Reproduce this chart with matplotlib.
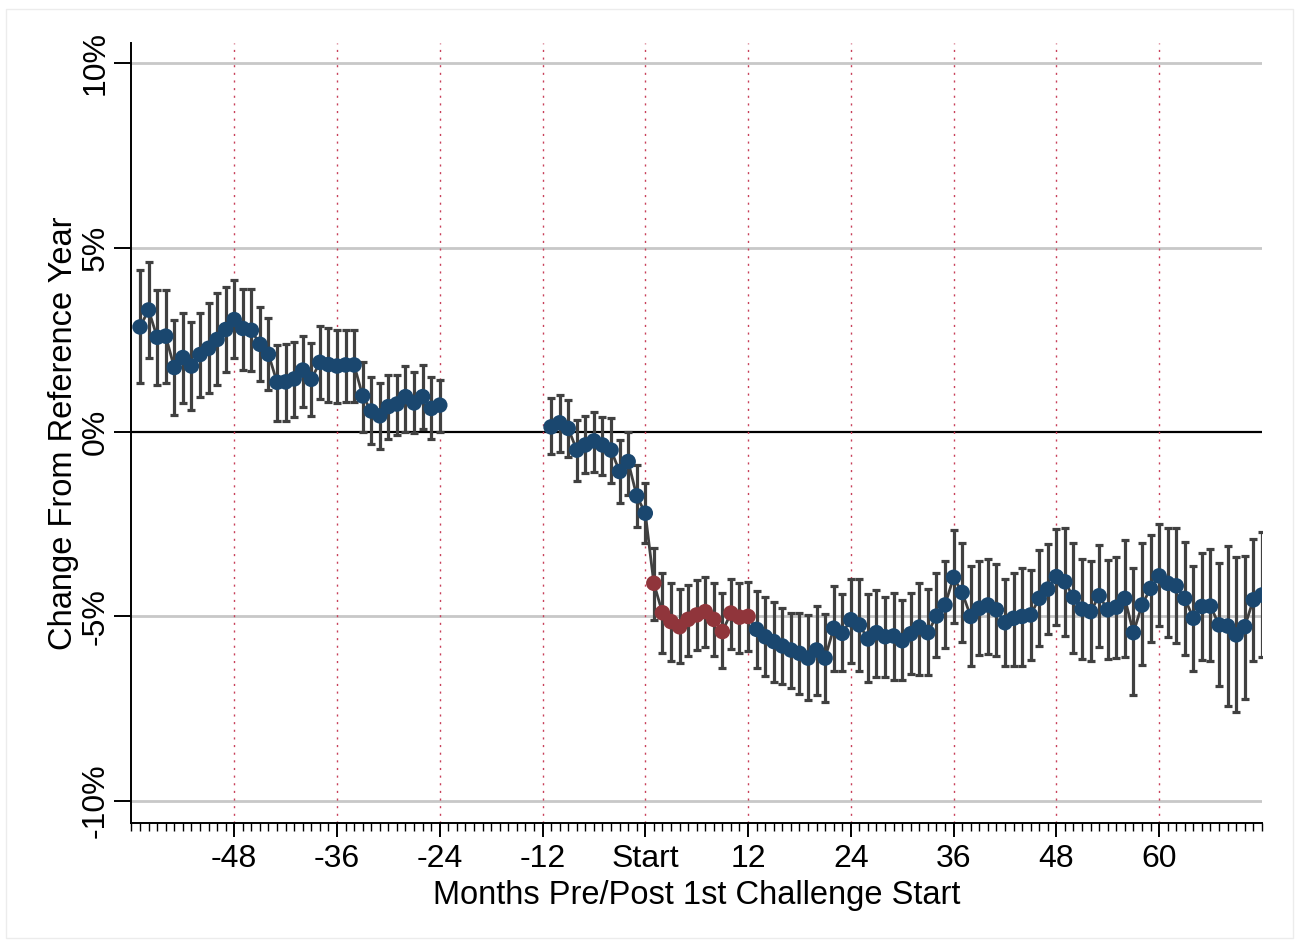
import matplotlib
matplotlib.use("Agg")
import matplotlib.pyplot as plt
import numpy as np
from matplotlib.patches import Rectangle

plt.rcParams['font.family'] = ['Liberation Sans', 'DejaVu Sans']

# pre-period window, months -59 .. -24
months_pre = list(range(-59, -23))
est_pre = [2.85, 3.31, 2.57, 2.60, 1.75, 2.02, 1.79, 2.10, 2.27, 2.51, 2.78, 3.05,
           2.81, 2.76, 2.38, 2.11, 1.35, 1.36, 1.44, 1.68, 1.43, 1.89, 1.83, 1.79,
           1.82, 1.82, 0.98, 0.57, 0.44, 0.69, 0.76, 0.96, 0.79, 0.96, 0.64, 0.73]
hi_pre = [4.39, 4.62, 3.85, 3.85, 3.03, 3.24, 2.99, 3.24, 3.49, 3.76, 3.94, 4.12,
          3.89, 3.87, 3.38, 3.08, 2.36, 2.40, 2.45, 2.60, 2.42, 2.87, 2.81, 2.76,
          2.78, 2.78, 1.91, 1.50, 1.34, 1.54, 1.54, 1.79, 1.63, 1.83, 1.48, 1.41]
lo_pre = [1.32, 2.00, 1.27, 1.32, 0.46, 0.78, 0.60, 0.96, 1.07, 1.27, 1.63, 2.00,
          1.68, 1.66, 1.38, 1.14, 0.31, 0.30, 0.40, 0.69, 0.43, 0.89, 0.82, 0.80,
          0.82, 0.82, 0.01, -0.33, -0.47, -0.20, -0.08, 0.01, -0.02, 0.07, -0.20, 0.01]

# months -11 .. 72
months_post = list(range(-11, 73))
est_post = [0.14, 0.25, 0.10, -0.49, -0.35, -0.24, -0.35, -0.49, -1.07, -0.80, -1.73, -2.20,
            -4.10, -4.90, -5.14, -5.28, -5.08, -4.96, -4.87, -5.08, -5.41, -4.91, -5.02, -5.00,
            -5.35, -5.55, -5.68, -5.80, -5.91, -6.00, -6.13, -5.91, -6.13, -5.32, -5.46, -5.09,
            -5.23, -5.61, -5.44, -5.55, -5.53, -5.66, -5.47, -5.29, -5.44, -4.99, -4.69, -3.94,
            -4.35, -5.00, -4.78, -4.69, -4.82, -5.17, -5.05, -5.00, -4.96, -4.51, -4.26, -3.92,
            -4.06, -4.48, -4.80, -4.87, -4.44, -4.82, -4.75, -4.51, -5.44, -4.69, -4.24, -3.90,
            -4.10, -4.17, -4.51, -5.05, -4.73, -4.72, -5.23, -5.26, -5.50, -5.28, -4.55, -4.42]
hi_post = [0.91, 1.00, 0.87, 0.33, 0.43, 0.55, 0.42, 0.37, -0.22, 0.01, -0.89, -1.39,
           -3.15, -3.83, -4.08, -4.26, -4.15, -4.01, -3.92, -4.10, -4.37, -3.99, -4.10, -4.06,
           -4.30, -4.48, -4.62, -4.78, -4.90, -4.90, -4.96, -4.72, -4.93, -4.17, -4.39, -3.99,
           -3.99, -4.39, -4.28, -4.46, -4.37, -4.55, -4.36, -4.08, -4.26, -3.83, -3.49, -2.65,
           -3.00, -3.63, -3.51, -3.45, -3.58, -3.99, -3.83, -3.69, -3.74, -3.20, -3.04, -2.64,
           -2.61, -3.00, -3.45, -3.50, -3.06, -3.47, -3.40, -2.93, -3.69, -3.02, -2.79, -2.49,
           -2.61, -2.61, -2.97, -3.63, -3.27, -3.18, -3.54, -3.09, -3.40, -3.36, -2.91, -2.70]
lo_post = [-0.60, -0.53, -0.69, -1.32, -1.12, -1.07, -1.17, -1.39, -1.93, -1.71, -2.58, -3.02,
           -5.09, -6.00, -6.22, -6.25, -6.07, -5.91, -5.82, -6.07, -6.40, -5.89, -5.98, -5.95,
           -6.39, -6.61, -6.77, -6.83, -6.95, -7.10, -7.26, -7.13, -7.33, -6.49, -6.47, -6.27,
           -6.47, -6.79, -6.63, -6.63, -6.72, -6.72, -6.56, -6.59, -6.59, -6.09, -5.86, -5.18,
           -5.68, -6.34, -6.04, -6.02, -6.07, -6.34, -6.34, -6.34, -6.18, -5.80, -5.47, -5.23,
           -5.53, -6.00, -6.16, -6.22, -5.84, -6.16, -6.13, -6.09, -7.13, -6.31, -5.68, -5.26,
           -5.55, -5.73, -6.04, -6.49, -6.18, -6.20, -6.90, -7.44, -7.58, -7.24, -6.22, -6.09]

# first year after the challenge starts is drawn in red
red_months = list(range(1, 13))

tick_pos = [-48, -36, -24, -12, 0, 12, 24, 36, 48, 60]
tick_lab = ['-48', '-36', '-24', '-12', 'Start', '12', '24', '36', '48', '60']
y_ticks = [-10, -5, 0, 5, 10]
y_labs = ['-10%', '-5%', '0%', '5%', '10%']

navy = '#1a476f'
red = '#90353b'
bar_col = '#404040'

fig = plt.figure(figsize=(12.99, 9.47), dpi=100)
ax = fig.add_axes([0.1012, 0.131, 0.8702, 0.8236])

for v in [-10, -5, 5, 10]:
    ax.axhline(v, color='#c8c8c8', lw=2.0, zorder=1)
ax.axhline(0, color='black', lw=1.6, zorder=1)
for v in tick_pos:
    ax.axvline(v, color='#c8405a', lw=1.0, ls=(0, (1.5, 4)), zorder=1)

for m, e, h, l in [(months_pre, est_pre, hi_pre, lo_pre),
                   (months_post, est_post, hi_post, lo_post)]:
    m = np.array(m)
    e = np.array(e)
    h = np.array(h)
    l = np.array(l)
    ax.errorbar(m, e, yerr=[e - l, h - e], fmt='none', ecolor=bar_col,
                elinewidth=2.3, capsize=2.8, capthick=2.3, zorder=2)
    ax.plot(m, e, color=bar_col, lw=2.0, zorder=3)
    col = [red if x in red_months else navy for x in m]
    ax.scatter(m, e, s=125, c=col, edgecolors='none', zorder=4)

ax.set_xlim(-60, 72)
ax.set_ylim(-10.6, 10.55)
ax.set_xticks(tick_pos)
ax.set_xticklabels(tick_lab, fontsize=23)
ax.set_xticks(np.arange(-60, 73), minor=True)
ax.set_yticks(y_ticks)
ax.set_yticklabels(y_labs, fontsize=23, rotation=90, va='center')
ax.tick_params(axis='x', which='major', length=10, width=1.4, pad=5.5)
ax.tick_params(axis='x', which='minor', length=6, width=1.0)
ax.tick_params(axis='y', which='major', length=12, width=1.4, pad=3)

for s in ['top', 'right']:
    ax.spines[s].set_visible(False)
for s in ['left', 'bottom']:
    ax.spines[s].set_linewidth(1.4)

ax.set_xlabel('Months Pre/Post 1st Challenge Start', fontsize=23.5, labelpad=4)
ax.set_ylabel('Change From Reference Year', fontsize=23.5)
ax.yaxis.set_label_coords(-0.046, 0.5)

fig.patches.append(Rectangle((0.005, 0.01), 0.99, 0.98, transform=fig.transFigure,
                             fill=False, edgecolor='#ececec', lw=1.0))

fig.savefig('out.png', dpi=100)
